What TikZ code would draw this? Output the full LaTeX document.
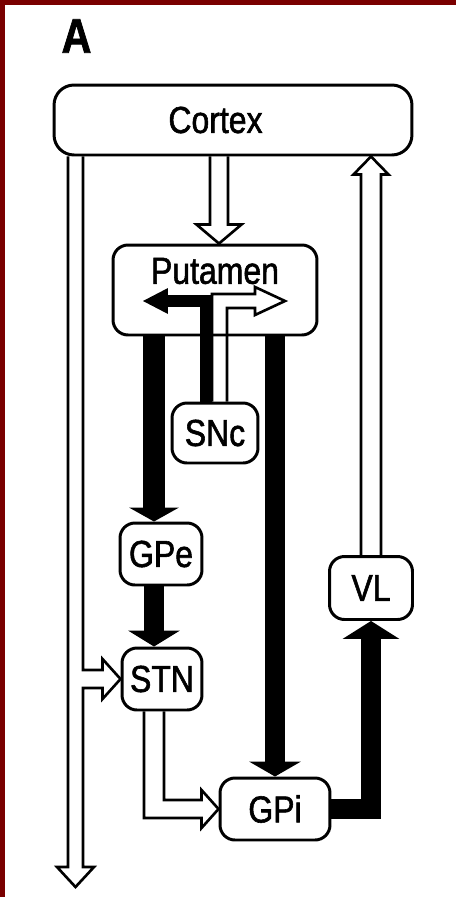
\documentclass[tikz,border=0pt]{standalone}
\usepackage{fontspec}
\newfontfamily\diafont[FakeStretch=0.85, FakeBold=1.5]{Liberation Sans}
\usetikzlibrary{arrows.meta, calc}
\definecolor{framered}{RGB}{122,0,0}

\begin{document}
\begin{tikzpicture}[
    x=0.02cm, y=-0.02cm,
    box/.style={rectangle, rounded corners=0.3cm, draw, line width=1.7pt,
                inner sep=0pt, font=\diafont\fontsize{21.4}{24}\selectfont},
    lab/.style={inner sep=0pt, font=\diafont\fontsize{21.4}{24}\selectfont},
    arr/.style={line width=0.4cm, line join=miter},
    hol/.style={line width=1.5pt, line join=miter}
]
\useasboundingbox (0,0) rectangle (456,897);
\fill[framered] (0,0) rectangle (456,5);
\fill[framered] (0,0) rectangle (5,897);

\node[inner sep=0pt, font=\diafont\bfseries\fontsize{27.7}{30}\selectfont] (panel) at (76.5,36) {A};

% nuclei
\node[box, rounded corners=0.4cm, minimum width=7.16cm, minimum height=1.4cm,
      label={[lab, xshift=-0.35cm]center:Cortex}] (ctx) at (233,120) {};
\node[box, minimum width=4.08cm, minimum height=1.8cm,
      label={[lab, yshift=0.38cm]center:Putamen}] (put) at (215,290) {};
\node[box, minimum width=1.72cm, minimum height=1.2cm] (snc) at (215,433) {SNc};
\node[box, minimum width=1.64cm, minimum height=1.24cm] (gpe) at (161,554) {GPe};
\node[box, minimum width=1.6cm, minimum height=1.24cm] (stn) at (162,679) {STN};
\node[box, minimum width=2.2cm, minimum height=1.24cm] (gpi) at (275,809) {GPi};
\node[box, minimum width=1.66cm, minimum height=1.26cm] (vl) at (371,588) {VL};

\coordinate (lane) at (154,0);
\coordinate (ca) at (219,0);
\coordinate (sb) at (206,0);
\coordinate (snl) at (143,301);
\coordinate (snr) at (285,301);
\coordinate (out) at (75.5,887);

% black pathways
\draw[arr, line width=0.44cm, -{Triangle[length=0.28cm, width=1.0cm, line width=0pt]}]
    (put.south -| lane) -- (gpe.north -| lane);
\draw[arr, -{Triangle[length=0.32cm, width=1.04cm, line width=0pt]}]
    (gpe.south -| lane) -- (stn.north -| lane);
\draw[arr, -{Triangle[length=0.3cm, width=1.04cm, line width=0pt]}]
    (put.south -| gpi.north) -- (gpi.north);
\draw[arr, -{Triangle[length=0.36cm, width=1.14cm, line width=0pt]}]
    (gpi.east) -| (vl.south);
\draw[arr, line width=0.24cm, -{Triangle[length=0.5cm, width=0.52cm, line width=0pt]}]
    (snc.north -| sb) |- (snl);

% open pathways
\draw[hol] ($(ctx.south -| ca)+(-9,0)$) -- ($(put.north -| ca)+(-9,-19)$) -- ++(-13.5,0)
    -- (put.north -| ca) -- ++(22.5,-19) -- ++(-13.5,0) -- ($(ctx.south -| ca)+(9,0)$);
\draw[hol] ($(vl.north)+(-10,0)$) -- ($(ctx.south -| vl.north)+(-10,18)$) -- ++(-7.5,0)
    -- (ctx.south -| vl.north) -- ++(17.5,18) -- ++(-7.5,0) -- ($(vl.north)+(10,0)$);
\draw[hol] ($(ctx.south -| out)+(-7.5,0)$) -- ($(out)+(-7.5,-20)$) -- ++(-11,0)
    -- (out) -- ++(18.5,-20) -- ++(-11,0) -- ($(stn.west -| out)+(7.5,9)$)
    -- ($(stn.west)+(-18,9)$) -- ++(0,11) -- (stn.west) -- ++(-18,-20) -- ++(0,11)
    -- ($(stn.west -| out)+(7.5,-9)$) -- ($(ctx.south -| out)+(7.5,0)$);
\draw[hol] ($(stn.south -| lane)+(-10,0)$) -- ($(gpi.west -| lane)+(-10,9)$)
    -- ($(gpi.west)+(-17,9)$) -- ++(0,10) -- (gpi.west) -- ++(-17,-19) -- ++(0,10)
    -- ($(gpi.west -| lane)+(10,-9)$) -- ($(stn.south -| lane)+(10,0)$);
\draw[hol] ($(snc.north -| sb)+(6,0)$) -- ($(snr -| sb)+(6,-7)$) -- ($(snr)+(-30,-7)$)
    -- ++(0,-7) -- (snr) -- ++(-30,14) -- ++(0,-7) -- ($(snr -| sb)+(21,7)$)
    -- ($(snc.north -| sb)+(21,0)$);

\end{tikzpicture}
\end{document}
